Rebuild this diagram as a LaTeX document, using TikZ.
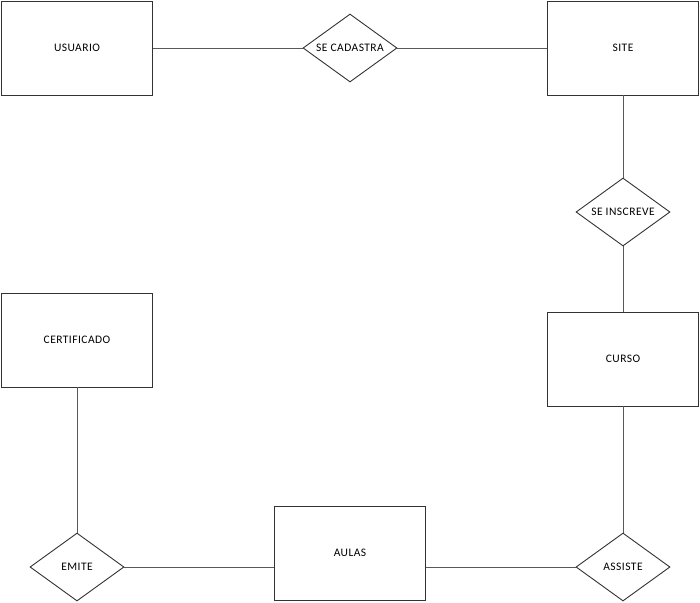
\documentclass[tikz,border=0pt]{standalone}
\usepackage{fontspec}
\setmainfont{Carlito}[LetterSpace=4]
\usetikzlibrary{shapes.geometric}
\begin{document}
\begin{tikzpicture}[x=1pt,y=-1pt,
  entity/.style={draw=black!80, line width=0.9pt, fill=white, rectangle,
    minimum width=151pt, minimum height=94pt, inner sep=0pt, font=\fontsize{11.5}{13}\selectfont},
  relation/.style={draw=black!80, line width=0.9pt, fill=white, diamond, aspect=1.4,
    minimum width=94pt, minimum height=68pt, inner sep=0pt, font=\fontsize{11.5}{13}\selectfont},
  link/.style={draw=black!65, line width=0.9pt}]
\useasboundingbox (0,0) rectangle (700,602);
% entities
\node[entity] (usuario) at (77,48) {USUARIO};
\node[entity] (site) at (623,48) {SITE};
\node[entity] (curso) at (623,359) {CURSO};
\node[entity] (aulas) at (350,553) {AULAS};
\node[entity] (cert) at (77,340) {CERTIFICADO};
% relationships
\node[relation] (secad) at (350,48) {SE CADASTRA};
\node[relation] (seins) at (623,212) {SE INSCREVE};
\node[relation] (assiste) at (623,567) {ASSISTE};
\node[relation] (emite) at (77,567) {EMITE};
% connectors
\draw[link] (usuario.east) -- (secad.west);
\draw[link] (secad.east) -- (site.west);
\draw[link] (site.south) -- (seins.north);
\draw[link] (seins.south) -- (curso.north);
\draw[link] (curso.south) -- (assiste.north);
\draw[link] (assiste.west) -- (aulas.east |- assiste.west);
\draw[link] (aulas.west |- emite.east) -- (emite.east);
\draw[link] (emite.north) -- (cert.south);
\end{tikzpicture}
\end{document}
